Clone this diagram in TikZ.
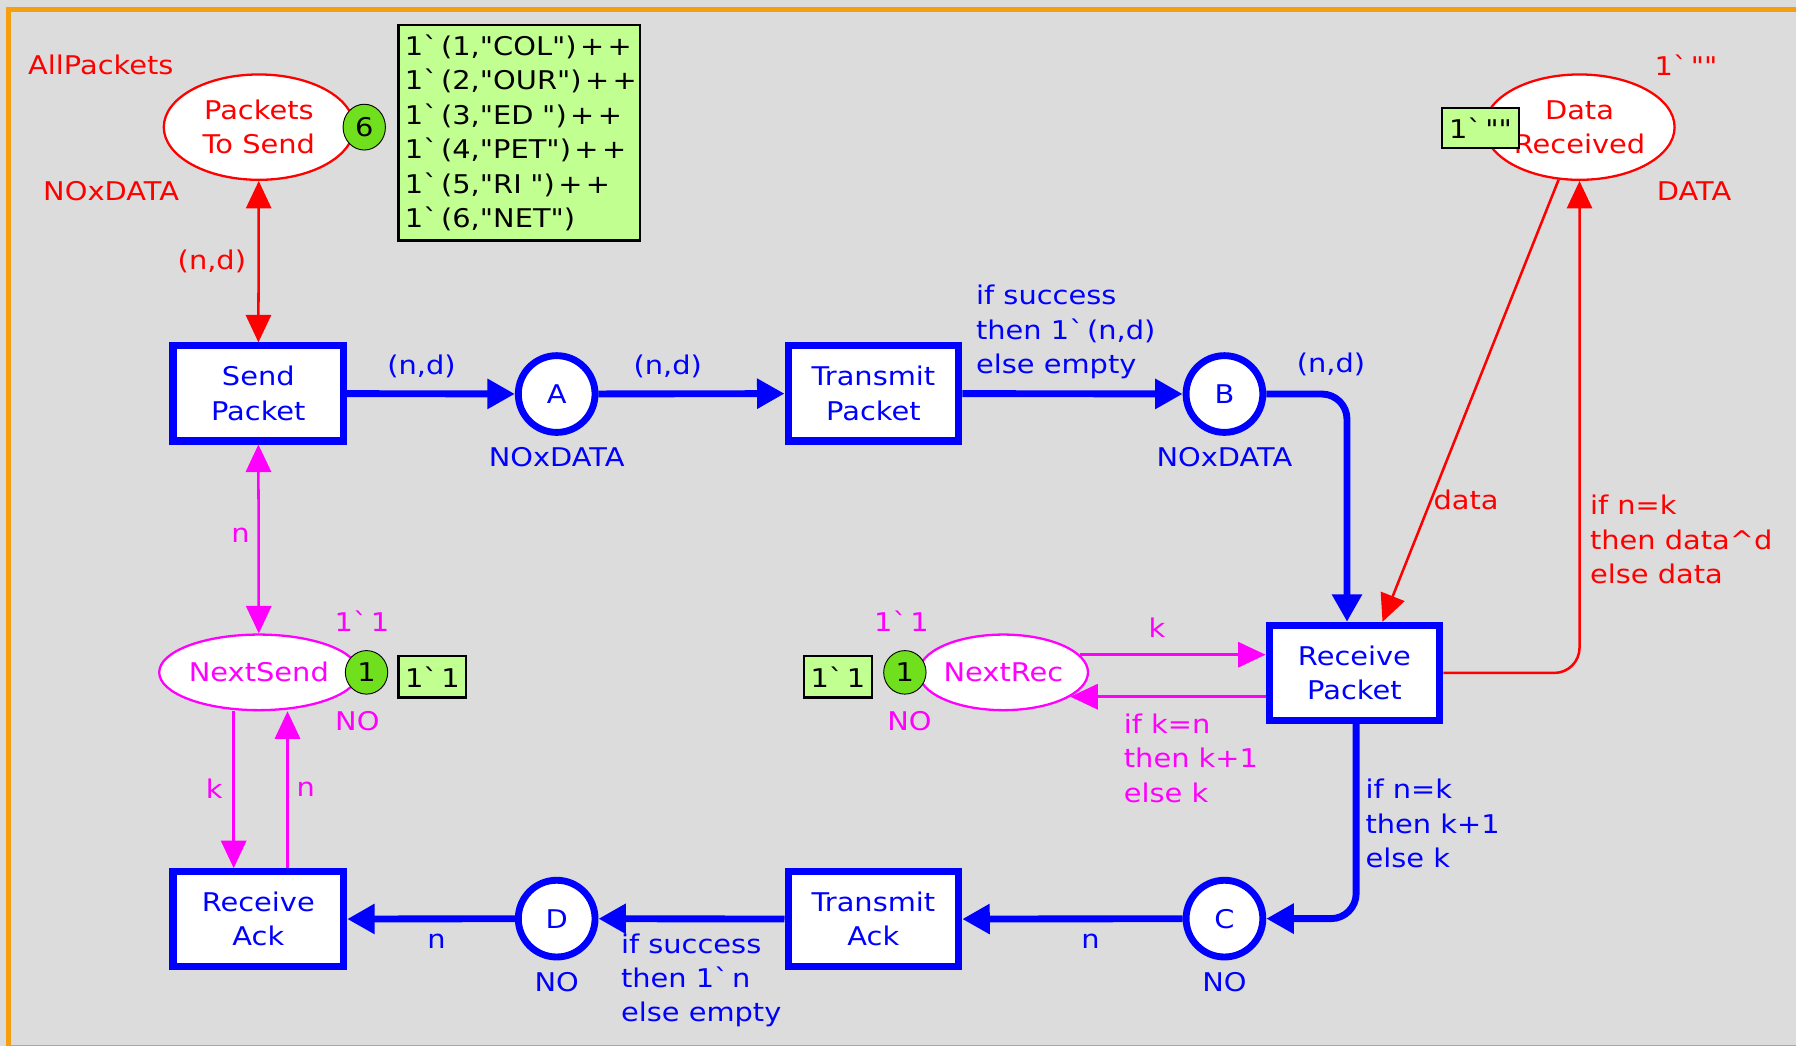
\documentclass[tikz,border=0pt]{standalone}
\usepackage{fontspec}
\newfontfamily\dv[FakeStretch=1.12]{DejaVu Sans}
\usetikzlibrary{arrows.meta,shapes.geometric}
\definecolor{bg}{HTML}{DCDCDC}
\definecolor{orng}{RGB}{245,158,16}
\definecolor{tokg}{RGB}{112,224,30}
\definecolor{boxg}{HTML}{C0FF90}
\definecolor{mag}{HTML}{FF00FF}
\newcommand\bqs{`\kern3pt}
\newcommand\pp{\kern3pt+\kern3pt+}
\begin{document}
\begin{tikzpicture}[x=1pt,y=-1pt,
  font=\dv\fontsize{22.5}{30}\selectfont,
  ttrans/.style={draw=blue, line width=6.2pt, fill=white, minimum width=149pt, minimum height=83pt, align=center, text=blue, inner sep=0pt},
  tplace/.style={draw=blue, line width=6pt, fill=white, circle, minimum size=67pt, text=blue, inner sep=0pt},
  rplace/.style={draw=#1, line width=2pt, fill=white, ellipse, text=#1, align=center, inner sep=0pt},
  ptok/.style={draw=black, line width=0.8pt, fill=tokg, ellipse, minimum width=37pt, minimum height=40pt, inner sep=0pt},
  mbox/.style={draw=black, line width=2pt, fill=boxg, inner sep=0pt},
  barc/.style={draw=blue, line width=6pt, -{Triangle[length=24pt,width=25pt]}},
  tarc/.style={draw=#1, line width=2.2pt, -{Triangle[length=24pt,width=22pt]}},
  dbl/.style={draw=#1, line width=2.2pt, {Triangle[length=24pt,width=22pt]}-{Triangle[length=24pt,width=22pt]}},
  lbl/.style={inner sep=0pt, text=#1},
]
\useasboundingbox (0,0) rectangle (1568,913);
\fill[bg] (0,0) rectangle (1568,913);
\begin{scope}
\clip (0,0) rectangle (1568,913);
\draw[orng, line width=4.5pt] (7.5,8.5) rectangle (1600,915);
\end{scope}

% transitions and places
\node[ttrans] (sp) at (225.5,343.5) {Send\\Packet};
\node[tplace] (A) at (486,344) {A};
\node[ttrans] (tp) at (762.5,343.5) {Transmit\\Packet};
\node[tplace] (B) at (1069,344) {B};
\node[ttrans] (rp) at (1182.5,587.5) {Receive\\Packet};
\node[tplace] (C) at (1069,802) {C};
\node[ttrans] (ta) at (762.5,802.5) {Transmit\\Ack};
\node[tplace] (D) at (486,802) {D};
\node[ttrans] (ra) at (225.5,802.5) {Receive\\Ack};

\node[rplace=red, minimum width=166pt, minimum height=92pt] (pts) at (226,111) {Packets\\To Send};
\node[rplace=red, minimum width=166pt, minimum height=92pt] (dr) at (1379,111) {Data\\Received};
\node[rplace=mag, minimum width=174pt, minimum height=66pt] (ns) at (226,587) {NextSend};
\node[rplace=mag, minimum width=146pt, minimum height=66pt] (nr) at (876,587) {NextRec};

% tokens
\node[ptok] (t1) at (318,111) {6};
\node[ptok, minimum height=38pt] (t2) at (320,587) {1};
\node[ptok, minimum height=38pt] (t3) at (790,587) {1};

% marking boxes
\node[mbox, minimum width=211pt, minimum height=188pt, text width=200pt, align=left] (m1) at (453.5,116) {1\bqs(1,"COL")\pp\\1\bqs(2,"OUR")\pp\\1\bqs(3,"ED ")\pp\\1\bqs(4,"PET")\pp\\1\bqs(5,"RI ")\pp\\1\bqs(6,"NET")};
\node[mbox, minimum width=67pt, minimum height=35pt] (m2) at (1292.5,111.5) {1\bqs""};
\node[mbox, minimum width=59pt, minimum height=36pt] (m3) at (377.5,591) {1\bqs1};
\node[mbox, minimum width=59pt, minimum height=36pt] (m4) at (731.5,591) {1\bqs1};

% blue arcs
\draw[barc] (sp) -- (A);
\draw[barc] (A) -- (tp);
\draw[barc] (tp) -- (B);
\draw[barc, rounded corners=22pt] (B.east) -| ([xshift=-6.5pt]rp.north);
\draw[barc, rounded corners=22pt] ([xshift=1.5pt]rp.south) |- (C.east);
\draw[barc] (C) -- (ta);
\draw[barc] (ta) -- (D);
\draw[barc] (D) -- (ra);

% red arcs
\draw[dbl=red] (sp) -- (pts);
\draw[tarc=red] (dr) -- ([xshift=24.5pt]rp.north);
\draw[tarc=red, rounded corners=22pt] (rp.east) -| (dr.south);

% magenta arcs
\draw[dbl=mag] (sp) -- (ns);
\draw[tarc=mag] ([xshift=-22pt]ns.south) -- ([xshift=-21.5pt]ra.north);
\draw[tarc=mag] ([xshift=25.5pt]ra.north) -- ([xshift=25pt]ns.south);
\draw[tarc=mag] (nr.13) -- (nr.13 -| rp.west);
\draw[tarc=mag] (nr.-20.5 -| rp.west) -- (nr.-20.5);

% red labels
\node[lbl=red] (l1) at (88,57) {AllPackets};
\node[lbl=red] (l2) at (97,167) {NOxDATA};
\node[lbl=red] (l3) at (185,228) {(n,d)};
\node[lbl=red] (l4) at (1472,57) {1\bqs""};
\node[lbl=red] (l5) at (1479,167) {DATA};
\node[lbl=red] (l6) at (1280,436) {data};
\node[lbl=red, anchor=west, align=left] (l7) at (1388,471) {if n=k\\then data\textasciicircum d\\else data};

% magenta labels
\node[lbl=mag] (l8) at (210,467) {n};
\node[lbl=mag] (l9) at (316,542) {1\bqs1};
\node[lbl=mag] (l10) at (312,630) {NO};
\node[lbl=mag] (l11) at (187,689) {k};
\node[lbl=mag] (l12) at (267,689) {n};
\node[lbl=mag] (l13) at (787,542) {1\bqs1};
\node[lbl=mag] (l14) at (794,630) {NO};
\node[lbl=mag] (l15) at (1010,548) {k};
\node[lbl=mag, anchor=west, align=left] (l16) at (981,662) {if k=n\\then k+1\\else k};

% blue labels
\node[lbl=blue] (l17) at (368,320) {(n,d)};
\node[lbl=blue] (l18) at (583,320) {(n,d)};
\node[lbl=blue] (l19) at (486,399) {NOxDATA};
\node[lbl=blue, anchor=west, align=left] (l20) at (852,290) {if success\\then 1\bqs(n,d)\\else empty};
\node[lbl=blue] (l21) at (1069,399) {NOxDATA};
\node[lbl=blue] (l22) at (1162,318) {(n,d)};
\node[lbl=blue, anchor=west, align=left] (l23) at (1192,719) {if n=k\\then k+1\\else k};
\node[lbl=blue] (l24) at (952,822) {n};
\node[lbl=blue] (l25) at (1069,857) {NO};
\node[lbl=blue, anchor=west, align=left] (l26) at (542,856) {if success\\then 1\bqs n\\else empty};
\node[lbl=blue] (l27) at (486,857) {NO};
\node[lbl=blue] (l28) at (381,822) {n};
\end{tikzpicture}
\end{document}
